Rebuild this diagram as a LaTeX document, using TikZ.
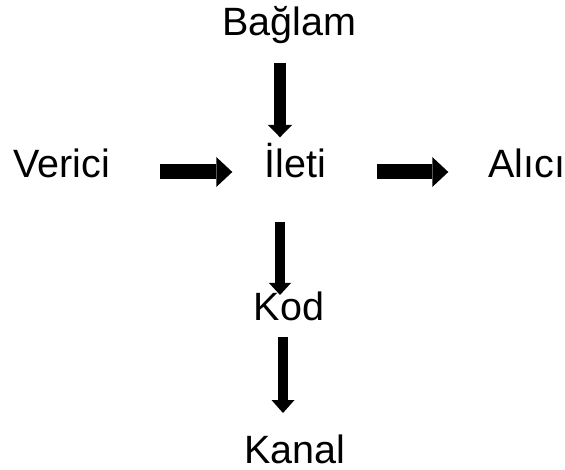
\documentclass[tikz,border=0pt]{standalone}
\usepackage{fontspec}
\setmainfont{Liberation Sans}
\usetikzlibrary{arrows.meta}
\begin{document}
\begin{tikzpicture}[x=1pt,y=-1pt,
  lbl/.style={inner sep=0pt,anchor=base,text depth=0pt,font=\fontsize{39.5}{46}\selectfont},
  vblock/.style={draw=black,line cap=butt,-{Triangle[length=12.3pt,width=24pt,line width=0pt]}},
  hblock/.style={draw=black,line width=15pt,line cap=butt,-{Triangle[length=16pt,width=30pt,line width=0pt]}}]
\useasboundingbox (0,0) rectangle (565,470);
\node[lbl] (baglam) at (289,36) {Bağlam};
\node[lbl] (verici) at (62,178) {Verici};
\node[lbl] (ileti) at (295.5,178) {İleti};
\node[lbl,anchor=base west] (alici) at (488,178) {Alıcı};
\node[lbl] (kod) at (289,321) {Kod};
\node[lbl] (kanal) at (295,463) {Kanal};
\coordinate (a1s) at (280,62.7);  \coordinate (a1e) at (280,137.3);
\coordinate (a2s) at (160,172);   \coordinate (a2e) at (232.3,172);
\coordinate (a3s) at (376.7,172); \coordinate (a3e) at (448.3,172);
\coordinate (a4s) at (280,221.7); \coordinate (a4e) at (280,295);
\coordinate (a5s) at (283,336.7); \coordinate (a5e) at (283,413);
\draw[vblock,line width=11.4pt] (a1s) -- (a1e);
\draw[hblock] (a2s) -- (a2e);
\draw[hblock] (a3s) -- (a3e);
\draw[vblock,line width=10pt,-{Triangle[length=12pt,width=22pt,line width=0pt]}] (a4s) -- (a4e);
\draw[vblock,line width=10.6pt,-{Triangle[length=13pt,width=23pt,line width=0pt]}] (a5s) -- (a5e);
\end{tikzpicture}
\end{document}
